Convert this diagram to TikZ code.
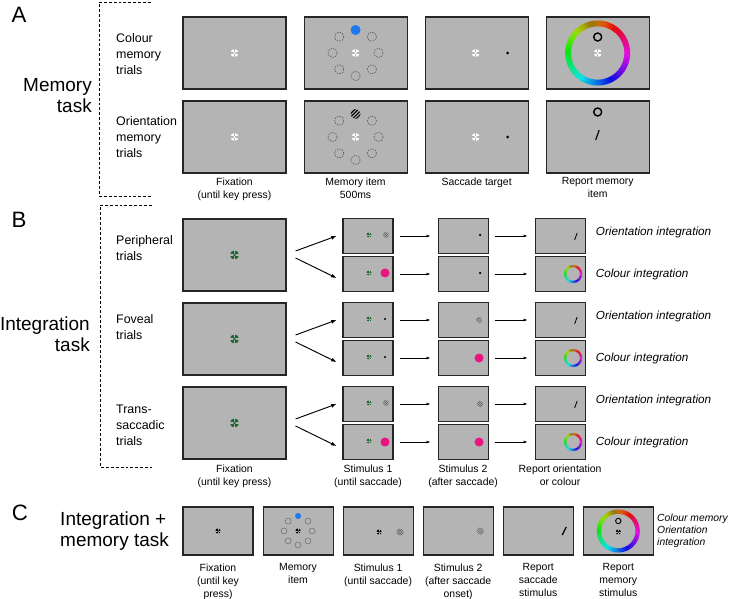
\documentclass[tikz,border=0pt]{standalone}
\usepackage{fontspec}
\setmainfont{Liberation Sans}
\usetikzlibrary{positioning,arrows.meta,calc}
\definecolor{scrgray}{RGB}{180,180,180}
\definecolor{fixgreen}{RGB}{28,100,48}
\definecolor{memblue}{RGB}{30,120,240}
\definecolor{stimpink}{RGB}{232,20,130}
\tikzset{
screen/.style={
draw=black!85,
line width=0.9pt,
fill=scrgray,
inner sep=0pt,
minimum width=3.09cm,
minimum height=2.16cm
},
smallscreen/.style={
screen,
minimum width=1.5cm,
minimum height=1.05cm
},
midscreen/.style={
screen,
minimum width=2.1cm,
minimum height=1.44cm
},
caption/.style={
align=center,
inner sep=0pt,
font=\fontsize{8.9}{11}\selectfont
},
trial/.style={
align=left,
anchor=west,
inner sep=0pt,
font=\fontsize{10.6}{13.6}\selectfont
},
task/.style={
align=right,
anchor=east,
inner sep=0pt,
font=\fontsize{16.2}{18}\selectfont
},
panel/.style={
inner sep=0pt,
font=\fontsize{19}{21}\selectfont
},
cond/.style={
anchor=west,
inner sep=0pt,
font=\itshape\fontsize{10}{12}\selectfont
},
arrow/.style={
-{Latex[length=3.4pt,width=2.4pt]},
line width=0.55pt,
shorten <=0.18cm,
shorten >=0.21cm
},
bigarrow/.style={
-{Latex[length=4.5pt,width=3.4pt]},
line width=0.8pt
},
bracket/.style={
line width=0.6pt,
dash pattern=on 2.5pt off 1.7pt
},
memring/.style={
draw=black!75,
line width=0.4pt,
dash pattern=on 1.3pt off 1pt
},
smallring/.style={
draw=black!60,
line width=0.4pt
},
pics/fixmark/.style={code={
\fill[#1] (0,0) circle (1);
\fill[scrgray] (-1.1,-0.15) rectangle (1.1,0.15);
\fill[scrgray] (-0.15,-1.1) rectangle (0.15,1.1);
\fill[#1] (0,0) circle (0.3);
}},
pics/grating/.style={code={
\begin{scope}
\clip (0,0) circle (1);
\foreach \d in {-0.75,-0.25,0.25,0.75}
\draw[line width=#1] ({0.707*(\d-1.5)},{0.707*(\d+1.5)}) -- ({0.707*(\d+1.5)},{0.707*(\d-1.5)});
\end{scope}
}},
pics/wheel/.style={code={
\begin{scope}[yscale=-1]
\foreach \a in {0,5,...,355}{
\pgfmathsetmacro{\hue}{mod(\a/360+0.85,1)}
\pgfmathsetmacro{\bri}{0.9-0.3*exp(-((\hue-0.14)/0.06)^2)}
\definecolor{wheelc}{hsb}{\hue,0.95,\bri}
\fill[wheelc] (\a:#1) -- (\a:1) arc[start angle=\a,end angle=\a+5.6,radius=1]
-- (\a+5.6:#1) arc[start angle=\a+5.6,end angle=\a,radius=#1] -- cycle;
}
\end{scope}
}}
}

\begin{document}
\begin{tikzpicture}[x=0.03cm,y=-0.03cm,node distance=0.51cm]
\useasboundingbox (0,0) rectangle (732,599);

% A: memory task
\node[panel](labA) at (19,15){A};
\node[task](memtask) at (92,96){Memory\\task};
\draw[bracket] (151,2) -- (99,2) -- (99,196) -- (151,196);
\node[trial](colT) at (116,54){Colour\\memory\\trials};
\node[trial](oriT) at (116,137){Orientation\\memory\\trials};

\foreach \r/\yy in {C/53,O/137}{
\node[screen](fix\r) at (234.5,\yy){};
\node[screen,right=of fix\r](mem\r){};
\node[screen,right=of mem\r](sac\r){};
\node[screen,right=of sac\r](rep\r){};
\pic[scale=4] at (fix\r) {fixmark=white};
\pic[scale=4] at (mem\r) {fixmark=white};
\pic[scale=4] at ($(sac\r)+(-1,0)$) {fixmark=white};
\fill ($(sac\r)+(31,0)$) circle (1.6);
\foreach \a in {0,45,90,135,180,225,315}
\draw[memring] ($(mem\r)+(\a:23)$) circle (4.6);
}
\fill[memblue] ($(memC)+(0,-23)$) circle (5);
\pic[scale=5] at ($(memO)+(0,-23)$) {grating=1pt};
\pic[scale=32.5] at (repC) {wheel=0.82};
\draw[line width=1.2pt] ($(repC)+(0,-16)$) circle (4);
\pic[scale=4] at (repC) {fixmark=white};
\draw[line width=1.2pt] ($(repO)+(0,-25)$) circle (4);
\draw[line width=1pt] ($(repO)+(-2,3)$) -- ($(repO)+(1.5,-7)$);

\node[caption,below=0.12cm of fixO](capA1){Fixation\\(until key press)};
\node[caption,below=0.12cm of memO](capA2){Memory item\\500ms};
\node[caption,below=0.12cm of sacO](capA3){Saccade target};
\node[caption,below=0.12cm of repO](capA4){Report memory\\item};

% B: integration task
\node[panel](labB) at (19,220){B};
\node[task](inttask) at (90,334){Integration\\task};
\draw[bracket] (152,205) -- (100,205) -- (100,467) -- (152,467);
\node[trial](perT) at (116,248){Peripheral\\trials};
\node[trial](fovT) at (116,327){Foveal\\trials};
\node[trial](traT) at (116,425){Trans-\\saccadic\\trials};

\foreach \r/\yy in {P/255,F/339,T/423}{
\node[screen](fix\r) at (234.5,\yy){};
\node[smallscreen](sa\r) at (368,\yy-19){};
\node[smallscreen](sb\r) at (368,\yy+19){};
\node[smallscreen,right=1.32cm of sa\r](ta\r){};
\node[smallscreen,right=1.32cm of sb\r](tb\r){};
\node[smallscreen,right=1.38cm of ta\r](ra\r){};
\node[smallscreen,right=1.38cm of tb\r](rb\r){};
\pic[scale=4.5] at (fix\r) {fixmark=fixgreen};
\pic[scale=2.5] at ($(sa\r)+(1,-1)$) {fixmark=fixgreen};
\pic[scale=2.5] at ($(sb\r)+(1,-1)$) {fixmark=fixgreen};
\draw[bigarrow] ($(fix\r.east)+(9,-4)$) -- ($(sa\r.west)+(-6,0)$);
\draw[bigarrow] ($(fix\r.east)+(9,3)$) -- ($(sb\r.west)+(-6,4)$);
\foreach \s/\t in {sa/ta,ta/ra,sb/tb,tb/rb}
\draw[arrow] (\s\r) -- (\t\r);
\draw[line width=0.7pt] ($(ra\r)+(14.5,4)$) -- ($(ra\r)+(17,-3)$);
\pic[scale=9] at ($(rb\r)+(13,0)$) {wheel=0.75};
\node[cond](co\r) at ($(ra\r.east)+(10,-4)$){Orientation integration};
\node[cond](cc\r) at ($(rb\r.east)+(10,0)$){Colour integration};
}
% peripheral
\pic[scale=3,black!65] at ($(saP)+(18,-1)$) {grating=0.45pt};
\fill[stimpink] ($(sbP)+(17,-1)$) circle (4.5);
\fill ($(taP)+(17,-1)$) circle (1.2);
\fill ($(tbP)+(17,-1)$) circle (1.2);
% foveal
\fill ($(saF)+(17,-1)$) circle (1.2);
\fill ($(sbF)+(17,-1)$) circle (1.2);
\pic[scale=3,black!65] at ($(taF)+(16,0)$) {grating=0.45pt};
\fill[stimpink] ($(tbF)+(16,0)$) circle (4.5);
% trans-saccadic
\pic[scale=3,black!65] at ($(saT)+(18,-1)$) {grating=0.45pt};
\fill[stimpink] ($(sbT)+(17,0)$) circle (4.5);
\pic[scale=3,black!65] at ($(taT)+(17,0)$) {grating=0.45pt};
\fill[stimpink] ($(tbT)+(16,0)$) circle (4.5);

\node[caption,below=0.15cm of fixT](capB1){Fixation\\(until key press)};
\node[caption,below=0.15cm of sbT](capB2){Stimulus 1\\(until saccade)};
\node[caption,below=0.15cm of tbT](capB3){Stimulus 2\\(after saccade)};
\node[caption,below=0.15cm of rbT](capB4){Report orientation\\or colour};

% C: integration + memory task
\node[panel](labC) at (20,513){C};
\node[task,anchor=west,align=left](imtask) at (60,531.5){Integration +\\memory task};
\node[midscreen](cFix) at (218,531){};
\foreach \a/\b in {cFix/cMem,cMem/cSa,cSa/cSb,cSb/cRs,cRs/cRm}
\node[midscreen,right=0.27cm of \a](\b){};

\pic[scale=2.6] at (cFix) {fixmark=black};
\pic[scale=2.6] at (cMem) {fixmark=black};
\fill[memblue] ($(cMem)+(0,-15)$) circle (3);
\foreach \a in {0,45,90,135,180,225,315}
\draw[smallring] ($(cMem)+(\a:14)$) circle (3);
\pic[scale=2.6] at ($(cSa)+(1,1)$) {fixmark=black};
\pic[scale=3.5,black!65] at ($(cSa)+(22,1)$) {grating=0.5pt};
\pic[scale=3.5,black!65] at ($(cSb)+(22,0)$) {grating=0.5pt};
\draw[line width=1pt] ($(cRs)+(24,4)$) -- ($(cRs)+(28,-4)$);
\pic[scale=21.5] at (cRm) {wheel=0.8};
\draw[line width=0.8pt] ($(cRm)+(0,-10)$) circle (2.7);
\pic[scale=2.6] at ($(cRm)+(0,1)$) {fixmark=black};

\node[caption,below=0.24cm of cFix](capC1){Fixation\\(until key\\press)};
\node[caption,below=0.24cm of cMem](capC2){Memory\\item};
\node[caption,below=0.24cm of cSa](capC3){Stimulus 1\\(until saccade)};
\node[caption,below=0.24cm of cSb](capC4){Stimulus 2\\(after saccade\\onset)};
\node[caption,below=0.24cm of cRs](capC5){Report\\saccade\\stimulus};
\node[caption,below=0.24cm of cRm](capC6){Report\\memory\\stimulus};
\node[cond,align=left,font=\itshape\fontsize{8.8}{10.5}\selectfont](cmoi) at (657,531){Colour memory\\Orientation\\integration};
\end{tikzpicture}
\end{document}
